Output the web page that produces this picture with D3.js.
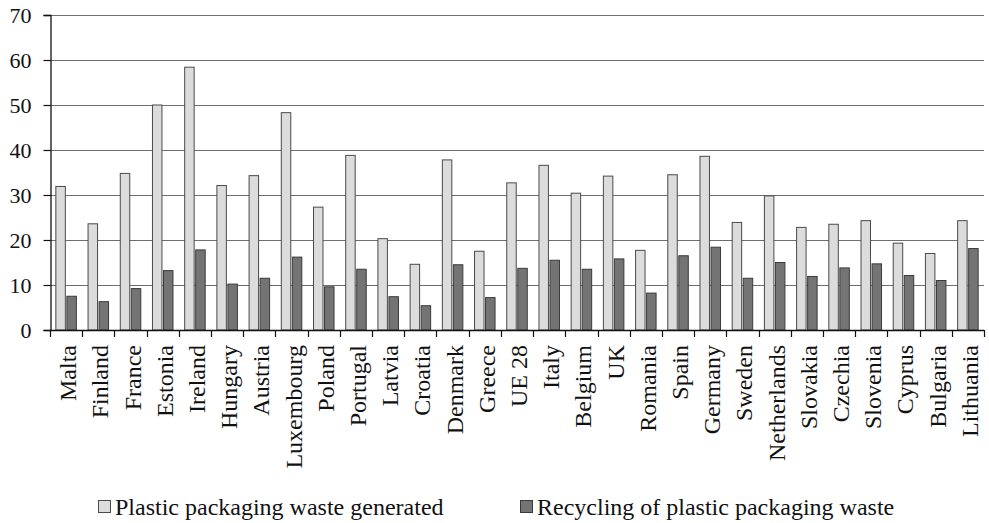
<!DOCTYPE html>
<html>
<head>
<meta charset="utf-8">
<script src="https://cdn.jsdelivr.net/npm/d3@7"></script>
<style>
  html, body { margin: 0; padding: 0; background: #fff; }
  svg { display: block; }
  text { font-family: "Liberation Serif", "Times New Roman", serif; fill: #111; }
</style>
</head>
<body>
<svg id="chart" width="989" height="523"></svg>
<script>
// Countries, in display order
const countries = ["Malta","Finland","France","Estonia","Ireland","Hungary","Austria","Luxembourg","Poland","Portugal","Latvia","Croatia","Denmark","Greece","UE 28","Italy","Belgium","UK","Romania","Spain","Germany","Sweden","Netherlands","Slovakia","Czechia","Slovenia","Cyprus","Bulgaria","Lithuania"];
// Plastic packaging waste generated
const generated = [31.9,23.6,34.8,50.0,58.4,32.1,34.3,48.3,27.3,38.8,20.3,14.6,37.8,17.5,32.7,36.6,30.4,34.2,17.7,34.5,38.6,23.9,29.8,22.8,23.5,24.3,19.3,17.0,24.3];
// Recycling of plastic packaging waste
const recycled = [7.5,6.3,9.2,13.2,17.8,10.2,11.5,16.2,9.6,13.5,7.4,5.4,14.5,7.2,13.7,15.5,13.5,15.8,8.2,16.5,18.4,11.5,15.0,11.9,13.8,14.7,12.1,11.0,18.1];
const seriesNames = ["Plastic packaging waste generated","Recycling of plastic packaging waste"];
const yTicks = [0,10,20,30,40,50,60,70];

const fills = ["#dcdcdc", "#747474"];
const strokes = ["#4a4a4a", "#3a3a3a"];

const svg = d3.select("#chart");
const plotLeft = 50, plotRight = 984, plotTop = 15, plotBottom = 330;

const x = d3.scaleBand().domain(countries).range([plotLeft, plotRight]).paddingInner(0).paddingOuter(0);
const bw = x.bandwidth();
const x1 = d3.scaleBand().domain([0, 1]).range([bw * 0.166, bw * 0.834]).paddingInner(0.05);
const y = d3.scaleLinear().domain([0, 70]).range([plotBottom, plotTop]);

// Horizontal gridlines
svg.append("g")
  .selectAll("line")
  .data(yTicks.filter(d => d > 0))
  .join("line")
  .attr("x1", plotLeft).attr("x2", plotRight)
  .attr("y1", d => Math.round(y(d)) + 0.5).attr("y2", d => Math.round(y(d)) + 0.5)
  .attr("stroke", "#6e6e6e").attr("stroke-width", 1.2);

// Bars
const groups = svg.append("g")
  .selectAll("g")
  .data(countries.map((c, i) => ({ c, v: [generated[i], recycled[i]] })))
  .join("g")
  .attr("transform", d => `translate(${x(d.c)},0)`);

groups.selectAll("rect")
  .data(d => d.v.map((v, k) => ({ v, k })))
  .join("rect")
  .attr("x", d => x1(d.k) + 0.5)
  .attr("width", x1.bandwidth() - 1)
  .attr("y", d => y(d.v))
  .attr("height", d => y(0) - y(d.v))
  .attr("fill", d => fills[d.k])
  .attr("stroke", d => strokes[d.k])
  .attr("stroke-width", 1);

// Y axis
const yAxis = svg.append("g")
  .attr("transform", `translate(${plotLeft + 0.5},0)`)
  .call(d3.axisLeft(y).tickValues(yTicks).tickSize(7).tickPadding(12).tickFormat(d3.format("d")));
yAxis.select(".domain").attr("stroke", "#111").attr("stroke-width", 1.3);
yAxis.selectAll(".tick line").attr("stroke", "#111").attr("stroke-width", 1.2);
yAxis.selectAll(".tick text")
  .style("font-family", '"Liberation Serif", serif')
  .attr("font-size", 22).attr("fill", "#111");

// X axis line and category boundary ticks
const xg = svg.append("g");
xg.append("line")
  .attr("x1", plotLeft).attr("x2", plotRight)
  .attr("y1", plotBottom + 0.5).attr("y2", plotBottom + 0.5)
  .attr("stroke", "#111").attr("stroke-width", 1.3);
const bounds = countries.map(c => x(c)).concat([x(countries[countries.length - 1]) + bw]);
xg.selectAll("line.bt")
  .data(bounds)
  .join("line")
  .attr("class", "bt")
  .attr("x1", d => Math.round(d) + 0.5).attr("x2", d => Math.round(d) + 0.5)
  .attr("y1", plotBottom).attr("y2", plotBottom + 7)
  .attr("stroke", "#111").attr("stroke-width", 1.2);

// Rotated category labels
xg.selectAll("text")
  .data(countries)
  .join("text")
  .attr("transform", d => `translate(${x(d) + bw / 2 + 10},${plotBottom + 15}) rotate(-90)`)
  .attr("text-anchor", "end")
  .attr("font-size", 24)
  .text(d => d);

// Legend
const legendItems = [
  { name: seriesNames[0], k: 0, x: 98 },
  { name: seriesNames[1], k: 1, x: 520 }
];
const lg = svg.append("g").attr("transform", "translate(0,507)");
legendItems.forEach(it => {
  lg.append("rect")
    .attr("x", it.x + 0.5).attr("y", -6.5)
    .attr("width", 12).attr("height", 12)
    .attr("fill", fills[it.k]).attr("stroke", strokes[it.k]);
  lg.append("text")
    .attr("x", it.x + 17).attr("y", 8)
    .attr("font-size", 24)
    .text(it.name);
});
</script>
</body>
</html>
